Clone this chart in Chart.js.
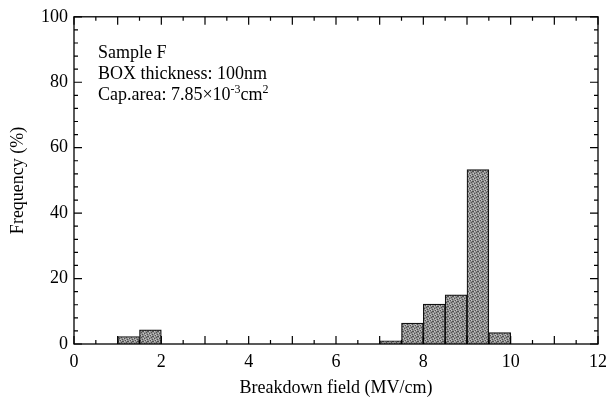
<!DOCTYPE html>
<html lang="en">
<head>
  <meta charset="UTF-8">
  <title>Breakdown field histogram</title>
  <script src="https://cdn.jsdelivr.net/npm/chart.js"></script>
  <style>
    body { margin: 0; background: #fff; }
    #wrap { width: 614px; height: 404px; }
  </style>
</head>
<body>
<div id="wrap"><canvas id="histChart" width="614" height="404"></canvas></div>
<script>
  // histogram bins (0.5 MV/cm wide), centres and frequency in %
  const binCentres = [1.25, 1.75, 7.25, 7.75, 8.25, 8.75, 9.25, 9.75];
  const frequency  = [2.3, 4.3, 1.0, 6.4, 12.2, 15.0, 53.3, 3.5];
  const xTicks = [0, 2, 4, 6, 8, 10, 12];
  const yTicks = [0, 20, 40, 60, 80, 100];
  const noteLines = ['Sample F', 'BOX thickness: 100nm'];

  const serif = '"Liberation Serif", "DejaVu Serif", serif';

  // small stipple so the bars look like the printed halftone
  function stipple() {
    const c = document.createElement('canvas');
    c.width = 5; c.height = 5;
    const g = c.getContext('2d');
    g.fillStyle = '#929292';
    g.fillRect(0, 0, 5, 5);
    g.fillStyle = '#505050';
    [[0, 0], [3, 1], [1, 2], [4, 3], [2, 4], [2, 1]].forEach(p => g.fillRect(p[0], p[1], 1, 1));
    g.fillStyle = '#c4c4c4';
    [[1, 0], [4, 1], [3, 3], [0, 4]].forEach(p => g.fillRect(p[0], p[1], 1, 1));
    return g.createPattern(c, 'repeat');
  }

  // inward ticks on all four sides plus the frame and the text box
  const framePlugin = {
    id: 'frame',
    afterDatasetsDraw(chart) {
      const { ctx, chartArea: a, scales } = chart;
      const xs = scales.x, ys = scales.y;
      ctx.save();
      ctx.strokeStyle = '#000';
      ctx.lineWidth = 1.3;
      ctx.strokeRect(a.left, a.top, a.right - a.left, a.bottom - a.top);

      ctx.lineWidth = 1.2;
      ctx.beginPath();
      for (let v = 0; v <= 12; v += 0.5) {
        const px = xs.getPixelForValue(v);
        const len = (v % 1 === 0) ? 8 : 4;
        ctx.moveTo(px, a.bottom); ctx.lineTo(px, a.bottom - len);
        ctx.moveTo(px, a.top); ctx.lineTo(px, a.top + len);
      }
      for (let v = 0; v <= 100; v += 4) {
        const py = ys.getPixelForValue(v);
        const len = (v % 20 === 0) ? 8 : 4;
        ctx.moveTo(a.left, py); ctx.lineTo(a.left + len, py);
        ctx.moveTo(a.right, py); ctx.lineTo(a.right - len, py);
      }
      ctx.stroke();

      // annotation
      ctx.fillStyle = '#000';
      ctx.font = '18px ' + serif;
      ctx.textBaseline = 'alphabetic';
      const tx = a.left + 24;
      let ty = a.top + 41;
      noteLines.forEach(t => { ctx.fillText(t, tx, ty); ty += 21; });
      let cx = tx;
      const part = (txt, font, dy) => {
        ctx.font = font;
        ctx.fillText(txt, cx, ty + dy);
        cx += ctx.measureText(txt).width;
      };
      part('Cap.area: 7.85\u00d710', '18px ' + serif, 0);
      part('-3', '12px ' + serif, -7);
      part('cm', '18px ' + serif, 0);
      part('2', '12px ' + serif, -7);
      ctx.restore();
    }
  };

  new Chart(document.getElementById('histChart'), {
    type: 'bar',
    data: {
      datasets: [{
        data: binCentres.map((x, i) => ({ x: x, y: frequency[i] })),
        backgroundColor: stipple(),
        borderColor: '#111',
        borderWidth: 1.2,
        barPercentage: 1.0,
        categoryPercentage: 1.0
      }]
    },
    options: {
      responsive: false,
      animation: false,
      layout: { padding: { left: 3, right: 13, top: 16, bottom: 1 } },
      plugins: { legend: { display: false }, tooltip: { enabled: false } },
      scales: {
        x: {
          type: 'linear',
          offset: false,
          min: 0, max: 12,
          afterBuildTicks: s => { s.ticks = xTicks.map(v => ({ value: v })); },
          afterFit: s => { s.height = 404 - 344 - 1; },
          grid: { display: false, drawTicks: false, offset: false },
          border: { display: false },
          ticks: { color: '#000', padding: 7, font: { family: serif, size: 18 } },
          title: {
            display: true, text: 'Breakdown field (MV/cm)', color: '#000',
            font: { family: serif, size: 18 }
          }
        },
        y: {
          min: 0, max: 100,
          afterBuildTicks: s => { s.ticks = yTicks.map(v => ({ value: v })); },
          afterFit: s => { s.width = 74 - 3; },
          grid: { display: false, drawTicks: false },
          border: { display: false },
          ticks: { color: '#000', padding: 6, font: { family: serif, size: 18 } },
          title: {
            display: true, text: 'Frequency (%)', color: '#000',
            font: { family: serif, size: 18 }
          }
        }
      }
    },
    plugins: [framePlugin]
  });
</script>
</body>
</html>
